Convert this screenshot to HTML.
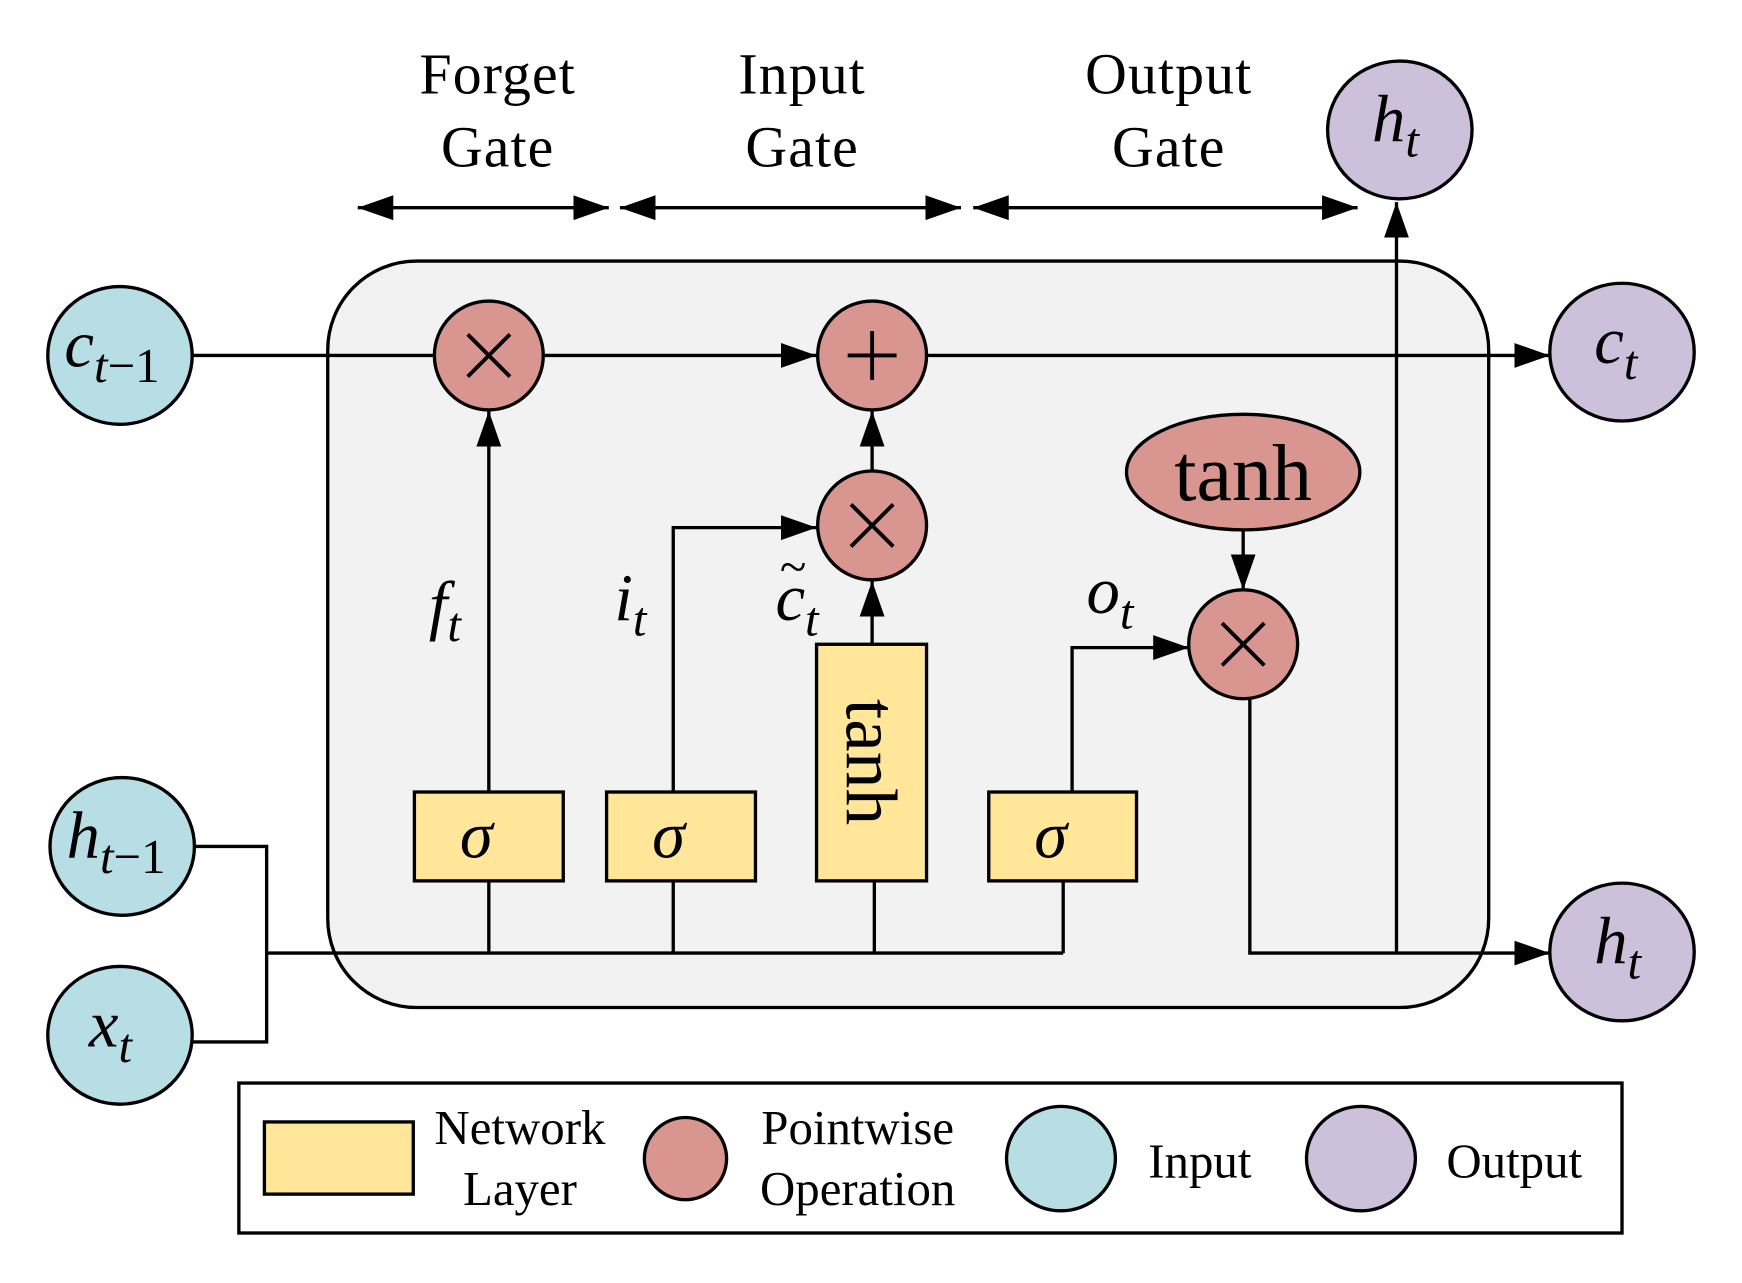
<!DOCTYPE html>
<html><head><meta charset="utf-8"><style>html,body{margin:0;padding:0;background:#fff}svg{display:block}</style></head>
<body>
<svg width="1742" height="1283" viewBox="0 0 1568 1155" preserveAspectRatio="none" xmlns="http://www.w3.org/2000/svg" font-family="'Liberation Serif',serif">
<defs>
<marker id="A" viewBox="0 0 10 10" refX="10" refY="5" markerWidth="32" markerHeight="32" markerUnits="userSpaceOnUse" orient="auto-start-reverse"><path d="M0,1.5L10,5L0,8.5z"/></marker>
</defs>
<rect x="295" y="235" width="1045" height="672" rx="80" fill="#f2f2f2" stroke="#000" stroke-width="3"/>
<g stroke="#000" stroke-width="3" fill="none">
<line x1="322" y1="187" x2="548" y2="187" marker-start="url(#A)" marker-end="url(#A)"/>
<line x1="558" y1="187" x2="865" y2="187" marker-start="url(#A)" marker-end="url(#A)"/>
<line x1="876" y1="187" x2="1222" y2="187" marker-start="url(#A)" marker-end="url(#A)"/>
<line x1="173" y1="320" x2="390" y2="320"/>
<line x1="490" y1="320" x2="735" y2="320" marker-end="url(#A)"/>
<line x1="835" y1="320" x2="1395" y2="320" marker-end="url(#A)"/>
<polyline points="175,762 240,762 240,938 173,938"/>
<line x1="240" y1="858" x2="957" y2="858"/>
<line x1="440" y1="858" x2="440" y2="793"/>
<line x1="606" y1="858" x2="606" y2="793"/>
<line x1="787" y1="858" x2="787" y2="793"/>
<line x1="957" y1="858" x2="957" y2="793"/>
<line x1="440" y1="713" x2="440" y2="370" marker-end="url(#A)"/>
<polyline points="606,713 606,475 735,475" marker-end="url(#A)"/>
<line x1="785" y1="580" x2="785" y2="523" marker-end="url(#A)"/>
<line x1="785" y1="423" x2="785" y2="370" marker-end="url(#A)"/>
<polyline points="965,713 965,583 1070,583" marker-end="url(#A)"/>
<line x1="1119" y1="477" x2="1119" y2="531" marker-end="url(#A)"/>
<polyline points="1125,628 1125,858 1395,858" marker-end="url(#A)"/>
<line x1="1257" y1="858" x2="1257" y2="182" marker-end="url(#A)"/>
</g>
<g stroke="#000" stroke-width="3">
<ellipse cx="108" cy="320" rx="65" ry="62" fill="#b7dde5"/>
<ellipse cx="110" cy="762" rx="65" ry="62" fill="#b7dde5"/>
<ellipse cx="108" cy="932" rx="65" ry="62" fill="#b7dde5"/>
<ellipse cx="1260" cy="117" rx="65" ry="62" fill="#ccc0da"/>
<ellipse cx="1460" cy="317" rx="65" ry="62" fill="#ccc0da"/>
<ellipse cx="1460" cy="857" rx="65" ry="62" fill="#ccc0da"/>
<circle cx="440" cy="320" r="49" fill="#d9958f"/>
<circle cx="785" cy="320" r="49" fill="#d9958f"/>
<circle cx="785" cy="473" r="49" fill="#d9958f"/>
<circle cx="1119" cy="580" r="49" fill="#d9958f"/>
<ellipse cx="1119" cy="425" rx="105" ry="52" fill="#d9958f"/>
<rect x="373" y="713" width="134" height="80" fill="#ffe699"/>
<rect x="546" y="713" width="134" height="80" fill="#ffe699"/>
<rect x="890" y="713" width="133" height="80" fill="#ffe699"/>
<rect x="735" y="580" width="99" height="213" fill="#ffe699"/>
<rect x="215" y="975" width="1245" height="135" fill="#fff"/>
<rect x="238" y="1010" width="134" height="65" fill="#ffe699"/>
<circle cx="617" cy="1043" r="37" fill="#d9958f"/>
<ellipse cx="955" cy="1043" rx="49" ry="47" fill="#b7dde5"/>
<ellipse cx="1225" cy="1043" rx="49" ry="47" fill="#ccc0da"/>
</g>
<g stroke="#000" stroke-width="3.5">
<path d="M421,301L459,339M459,301L421,339"/>
<path d="M766,454L804,492M804,454L766,492"/>
<path d="M1100,561L1138,599M1138,561L1100,599"/>
<path d="M785,298V342M763,320H807"/>
</g>
<g font-size="52" text-anchor="middle" letter-spacing="1">
<text x="448" y="84">Forget</text><text x="448" y="150">Gate</text>
<text x="722" y="84">Input</text><text x="722" y="150">Gate</text>
<text x="1052" y="84">Output</text><text x="1052" y="150">Gate</text>
</g>
<g font-style="italic" font-size="60">
<text x="58" y="330">c<tspan font-size="44" dy="14">t</tspan><tspan font-style="normal" font-size="44">−1</tspan></text>
<text x="60" y="772">h<tspan font-size="44" dy="14">t</tspan><tspan font-style="normal" font-size="44">−1</tspan></text>
<text x="80" y="942">x<tspan font-size="44" dy="14">t</tspan></text>
<text x="1235" y="127">h<tspan font-size="44" dy="14">t</tspan></text>
<text x="1435" y="327">c<tspan font-size="44" dy="14">t</tspan></text>
<text x="1435" y="867">h<tspan font-size="44" dy="14">t</tspan></text>
<text x="386" y="565">f<tspan font-size="44" dy="12">t</tspan></text>
<text x="553" y="558">i<tspan font-size="44" dy="14">t</tspan></text>
<text x="698" y="558">c<tspan font-size="44" dy="14">t</tspan></text>
<text x="978" y="552">o<tspan font-size="44" dy="14">t</tspan></text>
<text x="414" y="772">σ</text>
<text x="587" y="772">σ</text>
<text x="931" y="772">σ</text>
</g>
<text x="702" y="525" font-size="44">~</text>
<text x="1119" y="450" font-size="72" text-anchor="middle">tanh</text>
<text transform="translate(762,686) rotate(90)" font-size="66" text-anchor="middle">tanh</text>
<g font-size="44" text-anchor="middle">
<text x="468" y="1030">Network</text><text x="468" y="1085">Layer</text>
<text x="772" y="1030">Pointwise</text><text x="772" y="1085">Operation</text>
<text x="1080" y="1060">Input</text>
<text x="1363" y="1060">Output</text>
</g>
</svg>
</body></html>
